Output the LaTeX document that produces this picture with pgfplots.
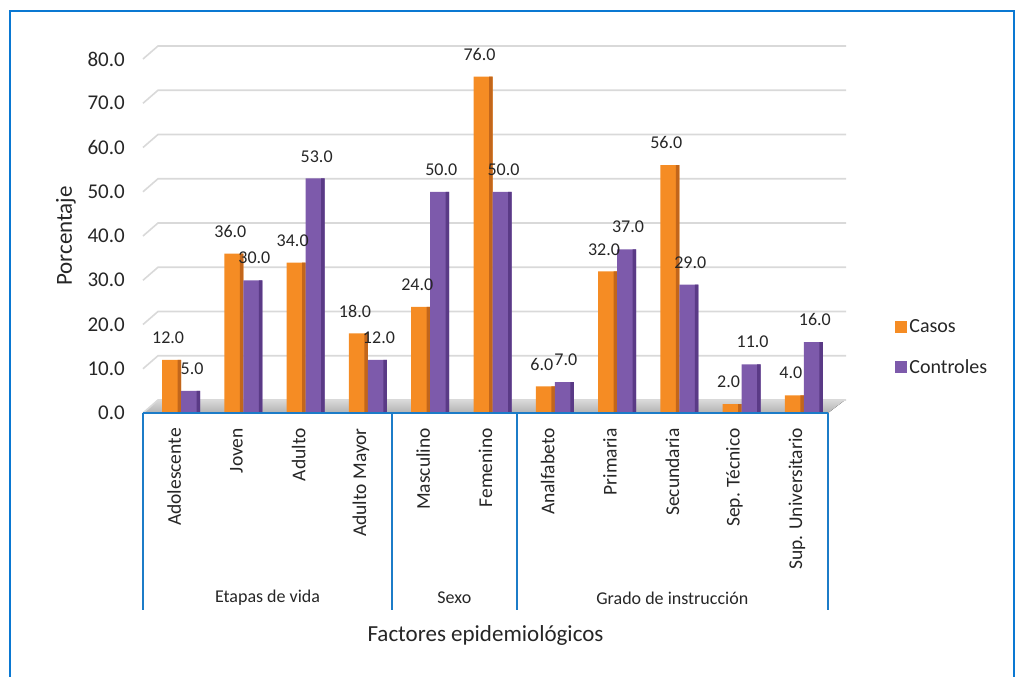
\documentclass[border=0pt]{standalone}
\usepackage{fontspec}
\setmainfont{Carlito}
\usepackage{pgfplots}
\pgfplotsset{compat=1.18}
\definecolor{txt}{HTML}{262626}
\definecolor{bordc}{HTML}{0A78D2}
\definecolor{bluec}{HTML}{1C7CC8}
\definecolor{gridc}{HTML}{D9D9D9}
\definecolor{orM}{HTML}{F58C24}
\definecolor{orD}{HTML}{C2661B}
\definecolor{puM}{HTML}{7D5AAB}
\definecolor{puD}{HTML}{5A3A86}
\pgfplotsset{sqleg/.style={legend image code/.code={\fill[##1] (0pt,-6pt) rectangle (12pt,6pt);}}}
\pgfplotstableread{
x casos controles
0 12 5
1 36 30
2 34 53
3 18 12
4 24 50
5 76 50
6 6 7
7 32 37
8 56 29
9 2 11
10 4 16
}\datatable
\begin{document}
\begin{tikzpicture}
\useasboundingbox (-143pt,-264pt) rectangle (874pt,413pt);
\draw[bordc, line width=2.5pt] (-133pt,-266pt) -- (-133pt,402pt) -- (871pt,402pt) -- (871pt,-266pt);
\begin{axis}[
  at={(0,0)}, anchor=south west,
  scale only axis, width=685pt, height=354pt,
  xmin=-0.5, xmax=10.5, ymin=0, ymax=80,
  clip=false,
  axis lines*=left, axis line style={draw=none},
  major tick length=0pt, tick style={draw=none},
  /pgf/number format/assume math mode=true,
  ytick={0,10,...,80},
  yticklabel style={font=\fontsize{21}{24}\selectfont, text=txt, anchor=east, inner sep=0pt,
    /pgf/number format/.cd, fixed, fixed zerofill, precision=1},
  yticklabel shift=18pt,
  xtick={0,...,10},
  xticklabels={Adolescente,Joven,Adulto,Adulto Mayor,Masculino,Femenino,Analfabeto,Primaria,Secundaria,Sep. Técnico,Sup. Universitario},
  xticklabel style={font=\fontsize{19.5}{22}\selectfont, text=txt, rotate=90, anchor=east, inner sep=0pt},
  xticklabel shift=15pt,
  legend style={at={(axis description cs:1.098,0.186)}, anchor=west, draw=none, fill=none,
    font=\fontsize{20}{23}\selectfont, text=txt, inner sep=0pt, row sep=21pt,
    /tikz/every even column/.append style={column sep=7pt}},
  legend cell align=left,
  lbl/.style={draw=none, mark=none, forget plot,
    nodes near coords={\pgfmathprintnumber[fixed,fixed zerofill,precision=1]{\pgfplotspointmeta}},
    every node near coord/.append style={font=\fontsize{18}{21}\selectfont, text=txt, anchor=south, inner sep=0pt, yshift=16pt, xshift=#1}},
]
% floor
\fill[top color=gray!30, bottom color=gray!60] (axis cs:-0.5,0) -- (axis cs:10.5,0) -- ++(17pt,13pt) -- ([shift={(15pt,13pt)}]axis cs:-0.5,0) -- cycle;
% grid
\pgfplotsinvokeforeach{0,10,20,30,40,50,60,70,80}{
  \draw[gridc, line width=1.6pt] (axis cs:-0.5,#1) -- ++(15pt,13pt) -- ++(688pt,0pt);
}
\addplot[ybar, bar width=19pt, bar shift=-2.5pt, draw=none, fill=orM, sqleg]
  table[x=x, y=casos] {\datatable};
\addlegendentry{Casos}
\addplot[ybar, bar width=3.5pt, bar shift=5.25pt, draw=none, fill=orD, forget plot]
  table[x=x, y=casos] {\datatable};
\addplot[ybar, bar width=19pt, bar shift=16.5pt, draw=none, fill=puM, sqleg]
  table[x=x, y=controles] {\datatable};
\addlegendentry{Controles}
\addplot[ybar, bar width=3.5pt, bar shift=24.25pt, draw=none, fill=puD, forget plot]
  table[x=x, y=controles] {\datatable};
% value labels
\addplot[lbl=-6pt] table[x=x, y=casos] {\datatable};
\addplot[lbl=18pt] table[x=x, y=controles] {\datatable};
% category axis lines
\draw[bluec, line width=2pt] (axis cs:-0.5,0) -- (axis cs:10.5,0);
\draw[bluec, line width=2pt] (axis cs:-0.5,0) -- ++(0pt,-197pt);
\draw[bluec, line width=2pt] (axis cs:3.5,0) -- ++(0pt,-197pt);
\draw[bluec, line width=2pt] (axis cs:5.5,0) -- ++(0pt,-197pt);
\draw[bluec, line width=2pt] (axis cs:10.5,0) -- ++(0pt,-197pt);
\node[font=\fontsize{18}{21}\selectfont, text=txt] at ([yshift=-185pt]axis cs:1.5,0) {Etapas de vida};
\node[font=\fontsize{18}{21}\selectfont, text=txt] at ([yshift=-185pt]axis cs:4.5,0) {Sexo};
\node[font=\fontsize{18}{21}\selectfont, text=txt] at ([yshift=-185pt]axis cs:8,0) {Grado de instrucción};
\node[font=\fontsize{23}{26}\selectfont, text=txt] at ([yshift=-222pt]axis cs:5,0) {Factores epidemiológicos};
\node[font=\fontsize{23}{26}\selectfont, text=txt, rotate=90] at ([xshift=-77pt]axis cs:-0.5,40) {Porcentaje};
\end{axis}
\end{tikzpicture}
\end{document}
